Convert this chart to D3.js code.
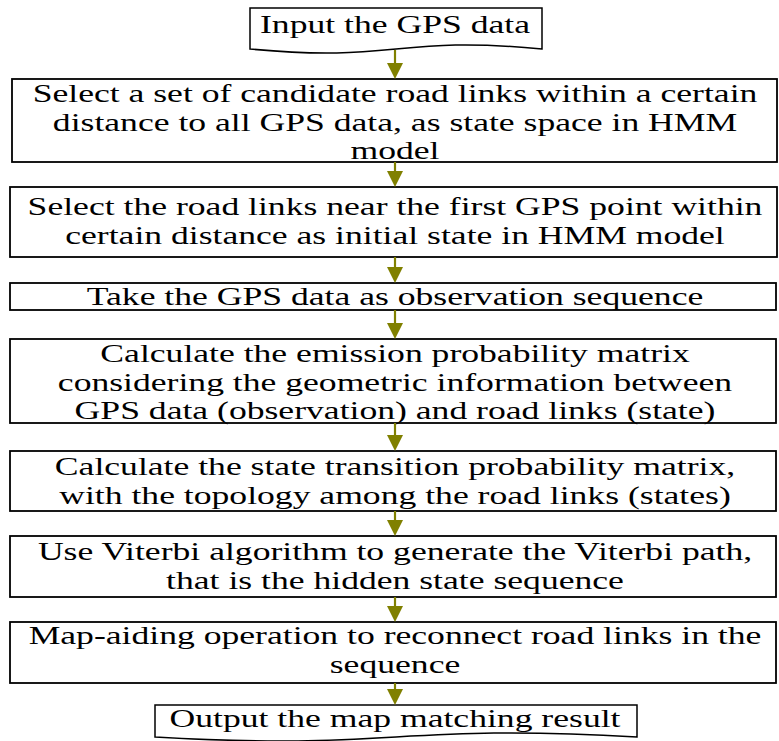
<!DOCTYPE html>
<html>
<head>
<meta charset="utf-8">
<script src="https://cdn.jsdelivr.net/npm/d3@7/dist/d3.min.js"></script>
<style>
  html, body { margin: 0; padding: 0; background: #fff; }
  svg { display: block; }
</style>
</head>
<body>
<svg id="chart" width="779" height="741"></svg>
<script>
// ---- content (flow steps) ----
const stepKinds = ["doc", "box", "box", "box", "box", "box", "box", "box", "doc"];
const stepLines = [
  ["Input the GPS data"],
  ["Select a set of candidate road links within a certain",
   "distance to all GPS data, as state space in HMM",
   "model"],
  ["Select the road links near the first GPS point within",
   "certain distance as initial state in HMM model"],
  ["Take the GPS data as observation sequence"],
  ["Calculate the emission probability matrix",
   "considering the geometric information between",
   "GPS data (observation) and road links (state)"],
  ["Calculate the state transition probability matrix,",
   "with the topology among the road links (states)"],
  ["Use Viterbi algorithm to generate the Viterbi path,",
   "that is the hidden state sequence"],
  ["Map-aiding operation to reconnect road links in the",
   "sequence"],
  ["Output the map matching result"]
];

// ---- layout (separate from content) ----
const boxLeft   = [250, 12, 10, 10, 10, 10, 10, 10, 155];
const boxRight  = [542, 777, 777, 776, 776, 776, 776, 776, 637];
const boxTop    = [8, 79, 187, 283, 339, 451, 536, 622, 705];
const boxBottom = [49, 162, 257, 310, 423, 511, 597, 683, 737];
const firstBaseline = [33, 102, 215, 305, 362, 475, 560, 644, 727];
const lineStep = 28.5;
const arrowX = 395;
const textCx = 395;
const fontSize = 26;
const stretchX = 1.37;
const arrowColor = "#808000";

const svg = d3.select("#chart");

// boxes
stepKinds.forEach((k, i) => {
  const x0 = boxLeft[i], x1 = boxRight[i], y0 = boxTop[i], yb = boxBottom[i];
  if (k === "box") {
    svg.append("rect")
      .attr("x", x0).attr("y", y0)
      .attr("width", x1 - x0).attr("height", yb - y0)
      .attr("fill", "#fff").attr("stroke", "#000").attr("stroke-width", 1.8);
  } else {
    const w = x1 - x0;
    const p = d3.path();
    p.moveTo(x0, y0);
    p.lineTo(x1, y0);
    p.lineTo(x1, yb);
    p.bezierCurveTo(x0 + w * 0.5, yb - 14, x0 + w * 0.5, yb + 14, x0, yb);
    p.closePath();
    svg.append("path").attr("d", p.toString())
      .attr("fill", "#fff").attr("stroke", "#000").attr("stroke-width", 1.5);
  }
});

// arrows
for (let i = 0; i < stepKinds.length - 1; i++) {
  const yStart = stepKinds[i] === "doc" ? boxBottom[i] + 1 : boxBottom[i];
  const yEnd = boxTop[i + 1];
  const headH = 16, headW = 8;
  svg.append("line")
    .attr("x1", arrowX).attr("x2", arrowX)
    .attr("y1", yStart).attr("y2", yEnd - headH + 1)
    .attr("stroke", arrowColor).attr("stroke-width", 2.2);
  svg.append("path")
    .attr("d", `M${arrowX - headW},${yEnd - headH} L${arrowX + headW},${yEnd - headH} L${arrowX},${yEnd} Z`)
    .attr("fill", arrowColor);
}

// texts
stepLines.forEach((lines, i) => {
  lines.forEach((t, j) => {
    svg.append("text")
      .attr("transform", `translate(${textCx},${firstBaseline[i] + j * lineStep}) scale(${stretchX},1)`)
      .attr("text-anchor", "middle")
      .attr("font-family", "'Liberation Serif', 'Times New Roman', serif")
      .attr("font-size", fontSize)
      .attr("fill", "#000")
      .text(t);
  });
});
</script>
</body>
</html>
